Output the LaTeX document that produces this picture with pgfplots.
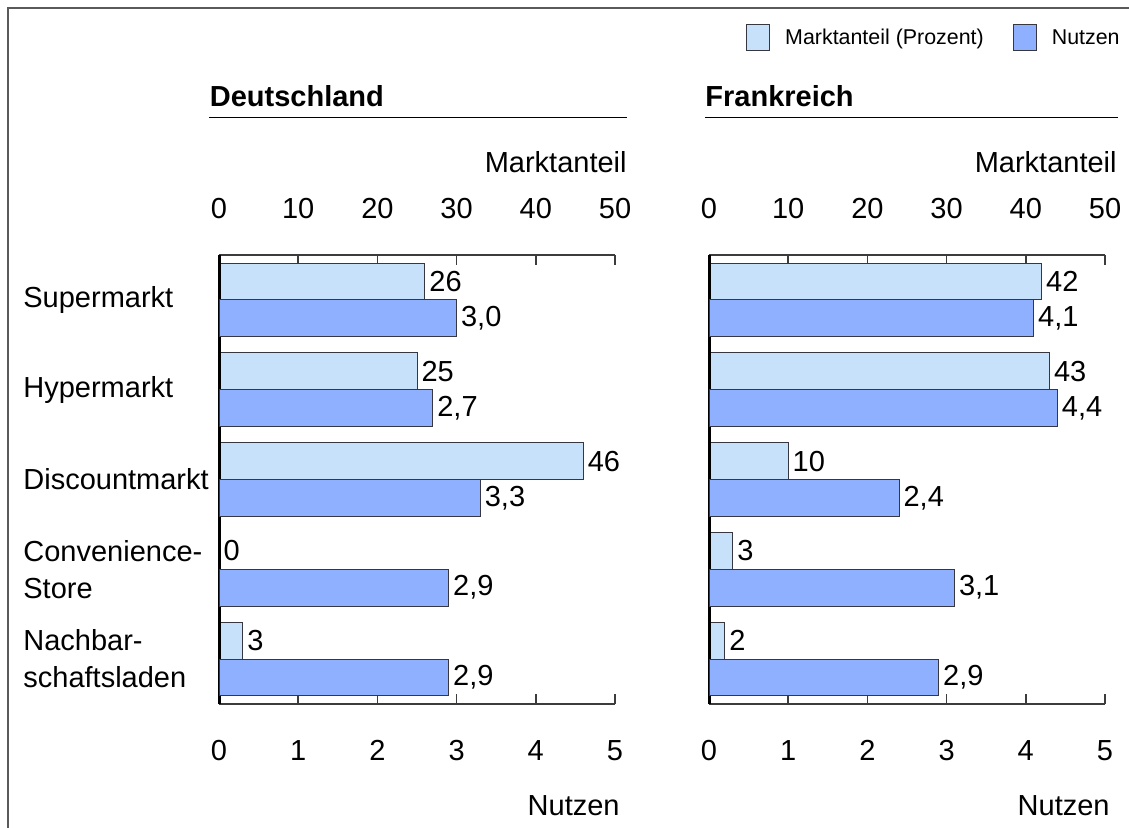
\documentclass[border=0pt]{standalone}
\usepackage{fontspec}
\setmainfont{Liberation Sans}
\usepackage{pgfplots}
\pgfplotsset{compat=1.18}
\usepackage{pgfplotstable}
\definecolor{lightbar}{RGB}{200,225,250}
\definecolor{darkbar}{RGB}{143,175,255}
\definecolor{edge}{RGB}{55,55,65}
\definecolor{axisgray}{RGB}{60,60,60}
\definecolor{framegray}{RGB}{90,90,90}

\pgfplotstableread{
cat markt nutzen
1 26 3.0
2 25 2.7
3 46 3.3
4 0 2.9
5 3 2.9
}\de
\pgfplotstableread{
cat markt nutzen
1 42 4.1
2 43 4.4
3 10 2.4
4 3 3.1
5 2 2.9
}\fr

\newcommand{\mainfont}{\fontsize{14.5}{18.5}\selectfont}

\pgfplotsset{
  mylegend/.style={legend image code/.code={\draw[##1, line width=0.5pt] (0pt,-6.5pt) rectangle (11.5pt,6.5pt);}},
  common/.style={
    scale only axis, width=198pt, height=224.5pt,
    ymin=0.5, ymax=5.5, y dir=reverse,
    xbar, bar width=0.41,
    clip=false,
    tick align=inside, major tick length=5pt,
    /pgf/number format/assume math mode=true,
    ticklabel style={font=\mainfont},
    x axis line style={-, axisgray, line width=0.75pt},
    xtick style={axisgray, line width=0.75pt},
    every node near coord/.append style={anchor=west, inner sep=0pt, xshift=2pt, font=\mainfont, text=black},
  },
  marktaxis/.style={common,
    xmin=0, xmax=50, xtick={0,10,...,50},
    axis x line*=top, axis y line=none,
    xticklabel style={anchor=base, inner sep=0pt, yshift=18.5pt},
    xlabel={Marktanteil},
    x label style={at={(axis description cs:1,1)}, anchor=base east, inner sep=0pt, xshift=6pt, yshift=41.5pt, font=\mainfont},
  },
  nutzaxis/.style={common,
    xmin=0, xmax=5, xtick={0,1,...,5},
    axis x line*=bottom, axis y line*=left,
    y axis line style={-, black, line width=1.5pt},
    ytick style={draw=none},
    xticklabel style={anchor=base, inner sep=0pt, yshift=-28pt},
    xlabel={Nutzen},
    x label style={at={(axis description cs:1,0)}, anchor=base east, inner sep=0pt, xshift=2.5pt, yshift=-55.5pt, font=\mainfont},
  },
  lightplot/.style={fill=lightbar, draw=edge, line width=0.5pt, bar shift=-0.205, point meta=x,
    nodes near coords={\pgfmathprintnumber[fixed, precision=0]{\pgfplotspointmeta}}, mylegend},
  darkplot/.style={fill=darkbar, draw=edge, line width=0.5pt, bar shift=0.205, point meta=x,
    nodes near coords={\pgfmathprintnumber[fixed, fixed zerofill, precision=1, use comma]{\pgfplotspointmeta}}, mylegend},
}

\begin{document}
\begin{tikzpicture}
\useasboundingbox (0,0) rectangle (564.5pt,-414pt);
% frame
\draw[framegray, line width=1pt] (4pt,-414pt) -- (4pt,-4pt) -- (564.5pt,-4pt);

% titles
\node[anchor=base west, inner sep=0pt, font=\fontsize{14.5}{17}\selectfont\bfseries] at (104.75pt,-53.5pt) {Deutschland};
\draw[black, line width=0.6pt] (104.5pt,-58.75pt) -- (313.5pt,-58.75pt);
\node[anchor=base west, inner sep=0pt, font=\fontsize{14.5}{17}\selectfont\bfseries] at (352.5pt,-53.5pt) {Frankreich};
\draw[black, line width=0.6pt] (352.5pt,-58.75pt) -- (559pt,-58.75pt);

% ---- Deutschland ----
\begin{axis}[marktaxis, at={(109.5pt,-352pt)}, anchor=south west]
  \addplot[lightplot] table[x=markt, y=cat] {\de};
\end{axis}
\begin{axis}[nutzaxis, at={(109.5pt,-352pt)}, anchor=south west,
    ytick={1,...,5},
    yticklabels={Supermarkt, Hypermarkt, Discountmarkt, {Convenience-\\Store}, {Nachbar-\\schaftsladen}},
    yticklabel style={anchor=west, align=left, inner sep=0pt, xshift=-98pt, font=\mainfont}]
  \addplot[darkplot] table[x=nutzen, y=cat] {\de};
\end{axis}

% ---- Frankreich ----
\begin{axis}[marktaxis, at={(354.5pt,-352pt)}, anchor=south west]
  \addplot[lightplot] table[x=markt, y=cat] {\fr};
\end{axis}
\begin{axis}[nutzaxis, at={(354.5pt,-352pt)}, anchor=south west, ytick=\empty,
    legend style={at={(axis description cs:1.0379,1.485)}, anchor=east, draw=none, fill=none,
      legend columns=-1, font=\fontsize{10.7}{12}\selectfont, inner sep=0pt,
      nodes={inner sep=0pt},
      /tikz/every odd column/.append style={column sep=7.5pt},
      /tikz/every even column/.append style={column sep=14.5pt}},
    legend cell align=left]
  \addlegendimage{mylegend, fill=lightbar, draw=edge}
  \addlegendentry{\strut Marktanteil (Prozent)}
  \addplot[darkplot] table[x=nutzen, y=cat] {\fr};
  \addlegendentry{\strut Nutzen}
\end{axis}
\end{tikzpicture}
\end{document}
